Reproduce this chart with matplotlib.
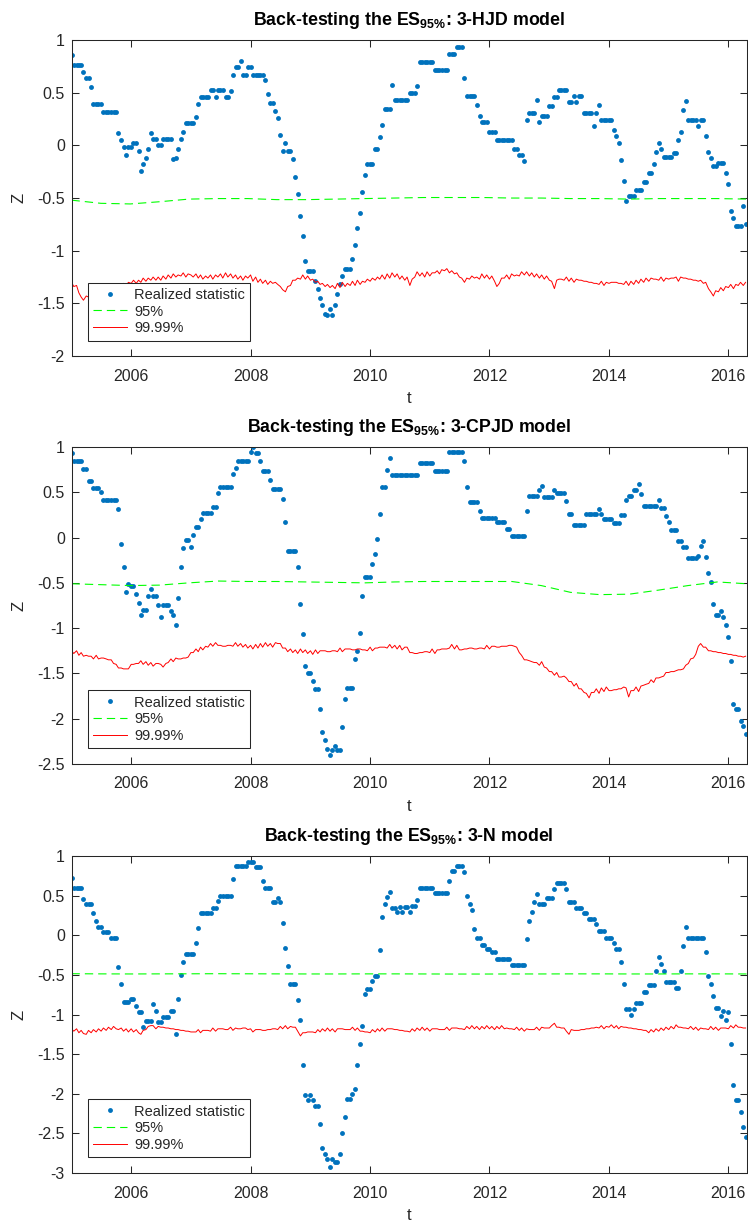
import numpy as np
import pandas as pd
import matplotlib
matplotlib.use("Agg")
import matplotlib.pyplot as plt
import matplotlib.dates as mdates
from matplotlib.ticker import MultipleLocator, FuncFormatter

plt.rcParams['font.family'] = 'Liberation Sans'
plt.rcParams['mathtext.fontset'] = 'custom'
plt.rcParams['mathtext.rm'] = 'Liberation Sans'
plt.rcParams['mathtext.bf'] = 'Liberation Sans:bold'
plt.rcParams['axes.unicode_minus'] = False

# back-test dates: 1st and 15th of every month, Jan 2005 - Apr 2016
dates = pd.date_range('2005-01-01', periods=272, freq='SMS')
band_dates = pd.date_range('2005-01-01', '2016-04-22', periods=24)

models = ['3-HJD', '3-CPJD', '3-N']
ylims = [(-2, 1), (-2.5, 1), (-3, 1)]

# ---- 3-HJD ----
hjd_z = [
    0.86, 0.76, 0.76, 0.76, 0.76, 0.70, 0.64, 0.64, 0.55, 0.39, 0.39, 0.39, 0.39, 0.32, 0.32, 0.32, 0.32, 0.32, 0.32, 0.12, 0.05, -0.02, -0.09, -0.02,
    -0.02, 0.02, 0.02, -0.05, -0.24, -0.18, -0.12, -0.03, 0.12, 0.06, 0.06, 0.00, 0.00, 0.06, 0.06, 0.06, 0.06, -0.13, -0.12, -0.03, 0.06, 0.13, 0.21, 0.21,
    0.21, 0.21, 0.27, 0.39, 0.46, 0.46, 0.46, 0.46, 0.53, 0.53, 0.46, 0.53, 0.53, 0.53, 0.46, 0.46, 0.52, 0.67, 0.74, 0.74, 0.80, 0.67, 0.67, 0.74,
    0.74, 0.67, 0.67, 0.67, 0.67, 0.67, 0.62, 0.49, 0.40, 0.40, 0.33, 0.26, 0.10, -0.05, 0.02, -0.05, -0.05, -0.13, -0.30, -0.46, -0.67, -0.86, -1.10, -1.19,
    -1.19, -1.19, -1.29, -1.36, -1.45, -1.52, -1.60, -1.61, -1.55, -1.61, -1.52, -1.41, -1.32, -1.24, -1.17, -1.17, -1.17, -1.08, -0.95, -0.78, -0.64, -0.44, -0.28, -0.18,
    -0.18, -0.18, -0.03, -0.03, 0.08, 0.19, 0.35, 0.35, 0.35, 0.57, 0.43, 0.43, 0.43, 0.43, 0.43, 0.43, 0.50, 0.50, 0.50, 0.56, 0.79, 0.79, 0.79, 0.79,
    0.79, 0.79, 0.72, 0.72, 0.72, 0.72, 0.72, 0.72, 0.87, 0.87, 0.87, 0.93, 0.93, 0.93, 0.64, 0.47, 0.47, 0.47, 0.47, 0.38, 0.28, 0.22, 0.22, 0.22,
    0.13, 0.13, 0.13, 0.05, 0.05, 0.05, 0.05, 0.05, 0.05, 0.05, -0.03, -0.03, -0.09, -0.09, -0.15, 0.24, 0.31, 0.31, 0.31, 0.43, 0.22, 0.28, 0.28, 0.28,
    0.37, 0.37, 0.46, 0.46, 0.53, 0.53, 0.53, 0.53, 0.41, 0.41, 0.47, 0.41, 0.47, 0.47, 0.31, 0.31, 0.31, 0.31, 0.18, 0.31, 0.38, 0.24, 0.24, 0.24,
    0.24, 0.24, 0.15, 0.09, 0.02, -0.14, -0.34, -0.53, -0.48, -0.48, -0.48, -0.42, -0.42, -0.42, -0.35, -0.35, -0.26, -0.26, -0.18, -0.06, 0.02, -0.03, -0.11, -0.11,
    -0.11, -0.11, -0.07, -0.07, 0.05, 0.13, 0.34, 0.42, 0.24, 0.24, 0.24, 0.24, 0.18, 0.24, 0.24, 0.09, -0.06, -0.12, -0.20, -0.20, -0.17, -0.17, -0.17, -0.26,
    -0.37, -0.62, -0.69, -0.77, -0.77, -0.77, -0.58, -0.75,
]
hjd_q95 = [-0.52, -0.55, -0.556, -0.535, -0.51, -0.505, -0.505, -0.515, -0.515, -0.51, -0.505, -0.50,
           -0.495, -0.495, -0.495, -0.50, -0.50, -0.505, -0.505, -0.51, -0.505, -0.505, -0.505, -0.51]
hjd_q9999 = [
    -1.30, -1.34, -1.33, -1.40, -1.44, -1.47, -1.43, -1.44, -1.39, -1.40, -1.41, -1.36, -1.38, -1.36, -1.36, -1.34, -1.36, -1.33, -1.35, -1.32, -1.34, -1.31, -1.33, -1.30,
    -1.31, -1.28, -1.31, -1.28, -1.30, -1.26, -1.29, -1.26, -1.28, -1.25, -1.28, -1.25, -1.28, -1.24, -1.27, -1.23, -1.26, -1.22, -1.25, -1.23, -1.24, -1.21, -1.25, -1.22,
    -1.23, -1.25, -1.22, -1.26, -1.23, -1.27, -1.24, -1.26, -1.23, -1.27, -1.23, -1.25, -1.22, -1.26, -1.21, -1.25, -1.22, -1.26, -1.23, -1.27, -1.24, -1.28, -1.24, -1.26,
    -1.23, -1.29, -1.25, -1.30, -1.27, -1.31, -1.28, -1.32, -1.29, -1.31, -1.30, -1.32, -1.34, -1.37, -1.39, -1.34, -1.33, -1.28, -1.28, -1.26, -1.27, -1.23, -1.27, -1.24,
    -1.28, -1.27, -1.30, -1.29, -1.32, -1.31, -1.34, -1.32, -1.35, -1.33, -1.36, -1.31, -1.35, -1.30, -1.34, -1.31, -1.33, -1.29, -1.33, -1.28, -1.32, -1.29, -1.30, -1.27,
    -1.29, -1.26, -1.28, -1.25, -1.27, -1.23, -1.27, -1.22, -1.26, -1.21, -1.25, -1.22, -1.27, -1.24, -1.28, -1.25, -1.33, -1.27, -1.25, -1.20, -1.24, -1.21, -1.25, -1.20,
    -1.24, -1.21, -1.21, -1.19, -1.22, -1.18, -1.19, -1.17, -1.21, -1.19, -1.22, -1.21, -1.25, -1.26, -1.30, -1.26, -1.27, -1.24, -1.26, -1.25, -1.27, -1.22, -1.26, -1.23,
    -1.27, -1.24, -1.29, -1.34, -1.31, -1.26, -1.26, -1.23, -1.27, -1.22, -1.24, -1.23, -1.24, -1.20, -1.23, -1.20, -1.24, -1.21, -1.25, -1.22, -1.26, -1.23, -1.27, -1.24,
    -1.28, -1.29, -1.36, -1.28, -1.27, -1.27, -1.28, -1.25, -1.29, -1.26, -1.30, -1.27, -1.28, -1.28, -1.29, -1.29, -1.30, -1.30, -1.31, -1.31, -1.32, -1.29, -1.33, -1.30,
    -1.31, -1.30, -1.30, -1.30, -1.31, -1.31, -1.32, -1.29, -1.33, -1.29, -1.32, -1.28, -1.31, -1.27, -1.30, -1.26, -1.29, -1.26, -1.27, -1.27, -1.28, -1.25, -1.29, -1.26,
    -1.27, -1.26, -1.26, -1.25, -1.29, -1.25, -1.26, -1.26, -1.27, -1.27, -1.28, -1.28, -1.29, -1.28, -1.31, -1.30, -1.36, -1.39, -1.43, -1.38, -1.39, -1.35, -1.38, -1.34,
    -1.35, -1.32, -1.36, -1.32, -1.33, -1.30, -1.33, -1.30,
]

# ---- 3-CPJD ----
cpjd_z = [
    0.93, 0.84, 0.84, 0.84, 0.84, 0.76, 0.76, 0.62, 0.62, 0.55, 0.55, 0.55, 0.50, 0.41, 0.41, 0.41, 0.41, 0.41, 0.41, 0.31, -0.07, -0.33, -0.60, -0.51,
    -0.54, -0.54, -0.62, -0.72, -0.86, -0.80, -0.80, -0.65, -0.57, -0.65, -0.65, -0.74, -0.88, -0.74, -0.74, -0.74, -0.81, -0.86, -0.96, -0.67, -0.33, -0.12, -0.03, -0.03,
    -0.10, 0.03, 0.12, 0.12, 0.20, 0.27, 0.27, 0.27, 0.27, 0.34, 0.34, 0.49, 0.56, 0.56, 0.56, 0.56, 0.56, 0.70, 0.77, 0.85, 0.85, 0.85, 0.85, 0.85,
    0.94, 1.00, 0.93, 0.93, 0.85, 0.74, 0.74, 0.74, 0.64, 0.54, 0.54, 0.54, 0.54, 0.43, 0.17, -0.15, -0.15, -0.15, -0.15, -0.33, -0.73, -1.07, -1.42, -1.50,
    -1.50, -1.58, -1.67, -1.67, -1.89, -2.15, -2.24, -2.33, -2.40, -2.35, -2.30, -2.35, -2.35, -2.09, -1.78, -1.66, -1.66, -1.66, -1.34, -1.25, -1.05, -0.65, -0.43, -0.43,
    -0.43, -0.29, -0.18, -0.02, 0.26, 0.56, 0.56, 0.75, 0.88, 0.69, 0.69, 0.69, 0.69, 0.69, 0.69, 0.69, 0.69, 0.69, 0.69, 0.69, 0.82, 0.82, 0.82, 0.82,
    0.82, 0.82, 0.74, 0.74, 0.74, 0.74, 0.74, 0.74, 0.94, 0.94, 0.94, 0.94, 0.94, 0.94, 0.85, 0.56, 0.39, 0.39, 0.39, 0.39, 0.29, 0.22, 0.22, 0.22,
    0.22, 0.22, 0.22, 0.17, 0.17, 0.17, 0.17, 0.09, 0.09, 0.02, 0.02, 0.02, 0.02, 0.02, 0.02, 0.29, 0.46, 0.46, 0.46, 0.46, 0.53, 0.57, 0.45, 0.45,
    0.45, 0.45, 0.52, 0.49, 0.49, 0.49, 0.49, 0.40, 0.26, 0.26, 0.14, 0.14, 0.14, 0.14, 0.14, 0.26, 0.26, 0.26, 0.26, 0.26, 0.31, 0.26, 0.20, 0.20,
    0.20, 0.20, 0.16, 0.16, 0.16, 0.25, 0.25, 0.42, 0.46, 0.46, 0.53, 0.53, 0.59, 0.48, 0.35, 0.35, 0.35, 0.35, 0.35, 0.35, 0.42, 0.33, 0.33, 0.24,
    0.17, 0.08, 0.08, 0.08, -0.04, -0.04, -0.10, -0.10, -0.23, -0.23, -0.23, -0.23, -0.20, -0.09, -0.04, -0.22, -0.39, -0.49, -0.73, -0.85, -0.85, -0.81, -0.88, -0.97,
    -1.10, -1.36, -1.84, -1.89, -1.89, -2.02, -2.08, -2.17,
]
cpjd_q95 = [-0.51, -0.52, -0.53, -0.525, -0.50, -0.48, -0.485, -0.485, -0.49, -0.495, -0.50, -0.49,
            -0.485, -0.485, -0.485, -0.485, -0.53, -0.605, -0.63, -0.625, -0.58, -0.53, -0.49, -0.51]
cpjd_q9999 = [
    -1.25, -1.28, -1.25, -1.30, -1.27, -1.31, -1.30, -1.31, -1.31, -1.34, -1.30, -1.34, -1.33, -1.33, -1.34, -1.35, -1.35, -1.39, -1.40, -1.44, -1.44, -1.45, -1.45, -1.45,
    -1.40, -1.40, -1.39, -1.39, -1.36, -1.40, -1.37, -1.41, -1.38, -1.42, -1.39, -1.39, -1.40, -1.43, -1.39, -1.38, -1.34, -1.37, -1.33, -1.34, -1.34, -1.33, -1.33, -1.32,
    -1.27, -1.27, -1.23, -1.26, -1.21, -1.24, -1.20, -1.21, -1.17, -1.20, -1.16, -1.19, -1.19, -1.20, -1.20, -1.19, -1.19, -1.20, -1.16, -1.20, -1.17, -1.21, -1.18, -1.22,
    -1.19, -1.23, -1.18, -1.22, -1.17, -1.21, -1.16, -1.20, -1.17, -1.21, -1.16, -1.17, -1.17, -1.22, -1.22, -1.26, -1.23, -1.27, -1.24, -1.28, -1.23, -1.27, -1.24, -1.28,
    -1.25, -1.29, -1.24, -1.28, -1.25, -1.25, -1.25, -1.26, -1.26, -1.25, -1.25, -1.26, -1.22, -1.26, -1.23, -1.23, -1.23, -1.24, -1.24, -1.23, -1.23, -1.24, -1.24, -1.25,
    -1.21, -1.25, -1.22, -1.22, -1.21, -1.21, -1.21, -1.22, -1.18, -1.22, -1.19, -1.23, -1.19, -1.24, -1.21, -1.21, -1.27, -1.27, -1.28, -1.28, -1.27, -1.27, -1.26, -1.26,
    -1.27, -1.23, -1.28, -1.24, -1.24, -1.23, -1.23, -1.23, -1.22, -1.18, -1.23, -1.19, -1.24, -1.24, -1.23, -1.23, -1.22, -1.22, -1.23, -1.23, -1.22, -1.22, -1.23, -1.19,
    -1.23, -1.20, -1.20, -1.21, -1.21, -1.20, -1.20, -1.20, -1.19, -1.19, -1.20, -1.21, -1.27, -1.30, -1.35, -1.35, -1.36, -1.37, -1.38, -1.38, -1.41, -1.37, -1.43, -1.44,
    -1.48, -1.48, -1.52, -1.49, -1.54, -1.54, -1.53, -1.55, -1.59, -1.59, -1.64, -1.61, -1.67, -1.67, -1.71, -1.72, -1.77, -1.71, -1.71, -1.67, -1.72, -1.66, -1.70, -1.65,
    -1.69, -1.69, -1.68, -1.68, -1.67, -1.67, -1.65, -1.66, -1.76, -1.69, -1.69, -1.65, -1.70, -1.64, -1.63, -1.62, -1.61, -1.57, -1.60, -1.55, -1.55, -1.54, -1.53, -1.49,
    -1.49, -1.48, -1.48, -1.47, -1.46, -1.46, -1.45, -1.41, -1.39, -1.34, -1.33, -1.29, -1.20, -1.17, -1.21, -1.21, -1.25, -1.25, -1.26, -1.26, -1.27, -1.27, -1.28, -1.28,
    -1.29, -1.29, -1.30, -1.30, -1.31, -1.31, -1.32, -1.31,
]

# ---- 3-N ----
n_z = [
    0.72, 0.60, 0.60, 0.60, 0.60, 0.46, 0.39, 0.39, 0.39, 0.28, 0.18, 0.11, 0.11, 0.04, 0.04, 0.04, -0.03, -0.03, -0.03, -0.40, -0.62, -0.84, -0.84, -0.84,
    -0.80, -0.80, -0.89, -0.97, -0.97, -1.16, -1.08, -1.08, -1.08, -0.87, -0.96, -1.10, -1.10, -1.03, -1.03, -1.03, -0.96, -0.96, -1.25, -0.80, -0.50, -0.34, -0.24, -0.24,
    -0.24, -0.24, -0.10, 0.09, 0.28, 0.28, 0.28, 0.28, 0.28, 0.35, 0.35, 0.43, 0.50, 0.50, 0.50, 0.50, 0.50, 0.71, 0.87, 0.87, 0.87, 0.87, 0.87, 0.93,
    0.93, 0.93, 0.86, 0.86, 0.86, 0.68, 0.60, 0.60, 0.60, 0.42, 0.42, 0.47, 0.42, 0.16, -0.16, -0.39, -0.61, -0.61, -0.61, -0.82, -1.07, -1.64, -2.02, -2.08,
    -2.02, -2.08, -2.16, -2.16, -2.38, -2.68, -2.76, -2.82, -2.92, -2.82, -2.86, -2.86, -2.76, -2.50, -2.29, -2.06, -2.06, -2.00, -1.94, -1.64, -1.37, -1.14, -0.74, -0.68,
    -0.68, -0.58, -0.52, -0.52, -0.19, 0.23, 0.39, 0.48, 0.55, 0.35, 0.35, 0.29, 0.36, 0.29, 0.36, 0.36, 0.30, 0.37, 0.37, 0.45, 0.60, 0.60, 0.60, 0.60,
    0.60, 0.60, 0.53, 0.53, 0.53, 0.53, 0.53, 0.53, 0.68, 0.81, 0.81, 0.88, 0.88, 0.88, 0.80, 0.50, 0.39, 0.32, 0.08, -0.03, -0.03, -0.12, -0.12, -0.17,
    -0.17, -0.21, -0.21, -0.30, -0.30, -0.30, -0.30, -0.30, -0.30, -0.37, -0.37, -0.37, -0.37, -0.37, -0.37, -0.05, 0.18, 0.29, 0.42, 0.52, 0.40, 0.40, 0.40, 0.47,
    0.47, 0.47, 0.58, 0.66, 0.66, 0.66, 0.66, 0.58, 0.42, 0.42, 0.42, 0.35, 0.35, 0.35, 0.28, 0.28, 0.21, 0.21, 0.21, 0.14, 0.05, 0.05, 0.05, -0.03,
    -0.03, -0.03, -0.10, -0.17, -0.17, -0.34, -0.61, -0.93, -0.93, -1.00, -0.93, -0.86, -0.86, -0.86, -0.72, -0.72, -0.63, -0.63, -0.63, -0.45, -0.27, -0.36, -0.45, -0.59,
    -0.59, -0.59, -0.59, -0.67, -0.67, -0.45, -0.14, 0.10, -0.03, -0.03, -0.03, -0.03, -0.03, -0.03, -0.03, -0.21, -0.51, -0.61, -0.76, -0.92, -0.92, -1.02, -0.95, -1.07,
    -0.97, -1.37, -1.89, -2.08, -2.08, -2.23, -2.42, -2.55,
]
n_q95 = [-0.485, -0.487, -0.488, -0.487, -0.486, -0.485, -0.486, -0.487, -0.488, -0.488, -0.487, -0.487,
         -0.488, -0.489, -0.489, -0.488, -0.488, -0.487, -0.487, -0.488, -0.488, -0.487, -0.487, -0.488]
n_q9999 = [
    -1.18, -1.21, -1.18, -1.23, -1.20, -1.24, -1.25, -1.20, -1.23, -1.19, -1.22, -1.18, -1.21, -1.17, -1.20, -1.16, -1.19, -1.15, -1.18, -1.19, -1.17, -1.21, -1.18, -1.22,
    -1.18, -1.22, -1.19, -1.23, -1.25, -1.20, -1.19, -1.15, -1.14, -1.14, -1.18, -1.15, -1.16, -1.16, -1.17, -1.17, -1.18, -1.18, -1.19, -1.19, -1.20, -1.20, -1.21, -1.21,
    -1.22, -1.22, -1.22, -1.19, -1.23, -1.20, -1.20, -1.20, -1.21, -1.17, -1.21, -1.18, -1.18, -1.18, -1.19, -1.19, -1.16, -1.20, -1.17, -1.18, -1.18, -1.17, -1.17, -1.19,
    -1.18, -1.22, -1.19, -1.19, -1.19, -1.20, -1.20, -1.19, -1.19, -1.18, -1.18, -1.19, -1.15, -1.18, -1.14, -1.18, -1.15, -1.16, -1.16, -1.21, -1.27, -1.23, -1.23, -1.22,
    -1.22, -1.22, -1.23, -1.19, -1.22, -1.18, -1.21, -1.17, -1.21, -1.18, -1.22, -1.18, -1.18, -1.18, -1.19, -1.19, -1.19, -1.16, -1.20, -1.17, -1.21, -1.21, -1.22, -1.22,
    -1.23, -1.19, -1.22, -1.18, -1.21, -1.17, -1.21, -1.18, -1.18, -1.18, -1.19, -1.19, -1.20, -1.20, -1.21, -1.21, -1.22, -1.18, -1.21, -1.17, -1.20, -1.16, -1.20, -1.17,
    -1.21, -1.18, -1.18, -1.18, -1.19, -1.19, -1.19, -1.16, -1.20, -1.17, -1.17, -1.17, -1.18, -1.18, -1.19, -1.15, -1.18, -1.14, -1.18, -1.15, -1.19, -1.15, -1.18, -1.14,
    -1.18, -1.15, -1.19, -1.15, -1.18, -1.14, -1.18, -1.17, -1.18, -1.18, -1.19, -1.16, -1.20, -1.17, -1.21, -1.18, -1.19, -1.19, -1.19, -1.16, -1.20, -1.16, -1.17, -1.17,
    -1.17, -1.14, -1.11, -1.16, -1.16, -1.17, -1.17, -1.21, -1.25, -1.19, -1.20, -1.20, -1.20, -1.19, -1.19, -1.18, -1.18, -1.17, -1.17, -1.16, -1.17, -1.14, -1.18, -1.15,
    -1.16, -1.13, -1.17, -1.14, -1.18, -1.15, -1.16, -1.16, -1.17, -1.17, -1.18, -1.18, -1.19, -1.19, -1.20, -1.20, -1.23, -1.19, -1.22, -1.18, -1.21, -1.17, -1.20, -1.16,
    -1.19, -1.15, -1.18, -1.13, -1.16, -1.16, -1.17, -1.17, -1.18, -1.15, -1.19, -1.16, -1.20, -1.17, -1.18, -1.18, -1.19, -1.15, -1.19, -1.16, -1.20, -1.17, -1.17, -1.17,
    -1.18, -1.14, -1.17, -1.13, -1.16, -1.16, -1.17, -1.17,
]

panels = [
    (hjd_z, hjd_q95, hjd_q9999),
    (cpjd_z, cpjd_q95, cpjd_q9999),
    (n_z, n_q95, n_q9999),
]

fig = plt.figure(figsize=(7.48, 12.21), dpi=100)
boxes = [[0.0956, 0.7084, 0.9027, 0.2588],
         [0.0956, 0.3743, 0.9027, 0.2596],
         [0.0956, 0.0393, 0.9027, 0.2596]]

axcol = '0.15'
for i, (z, q95, q9999) in enumerate(panels):
    ax = fig.add_axes(boxes[i])
    ax.plot(dates, z, 'o', color='#0072BD', ms=3.5, mew=0, label='Realized statistic')
    ax.plot(band_dates, q95, color='#00FF00', lw=0.8, dashes=(7.5, 4.5), label='95%')
    ax.plot(dates, q9999, color='#FF0000', lw=0.7, label='99.99%')

    ax.set_xlim(pd.Timestamp('2005-01-01'), pd.Timestamp('2016-04-22'))
    ax.set_ylim(*ylims[i])
    ax.xaxis.set_major_locator(mdates.YearLocator(2))
    ax.xaxis.set_major_formatter(mdates.DateFormatter('%Y'))
    ax.yaxis.set_major_locator(MultipleLocator(0.5))
    ax.yaxis.set_major_formatter(FuncFormatter(lambda v, p: '%g' % v))

    for sp in ax.spines.values():
        sp.set_color(axcol)
        sp.set_linewidth(0.75)
    ax.tick_params(direction='in', top=True, right=True, length=4.8, width=0.75,
                   color=axcol, labelcolor=axcol, labelsize=11.5)
    ax.tick_params(axis='x', pad=9)
    ax.tick_params(axis='y', pad=4.8)

    ax.set_title(r'Back-testing the ES$_{\mathbf{95\%}}$: ' + models[i] + ' model',
                 fontsize=12.8, fontweight='bold', pad=10.5)
    ax.set_xlabel('t', fontsize=12, color=axcol)
    ax.set_ylabel('Z', fontsize=12, color=axcol)
    ax.xaxis.set_label_coords(0.5, -0.133)
    ax.xaxis.label.set_va('center')
    ax.yaxis.set_label_coords(-0.078, 0.5)
    ax.yaxis.label.set_va('center')
    ax.yaxis.label.set_ha('center')

    leg = ax.legend(loc='lower left', bbox_to_anchor=(0.0245, 0.049), borderaxespad=0,
                    fancybox=False, framealpha=1, edgecolor=axcol, fontsize=10.5,
                    handlelength=2.3, handletextpad=0.5, labelspacing=0.2, borderpad=0.35)
    leg.get_frame().set_linewidth(0.75)
    for txt in leg.get_texts():
        txt.set_color(axcol)

fig.savefig('out.png', dpi=100)
